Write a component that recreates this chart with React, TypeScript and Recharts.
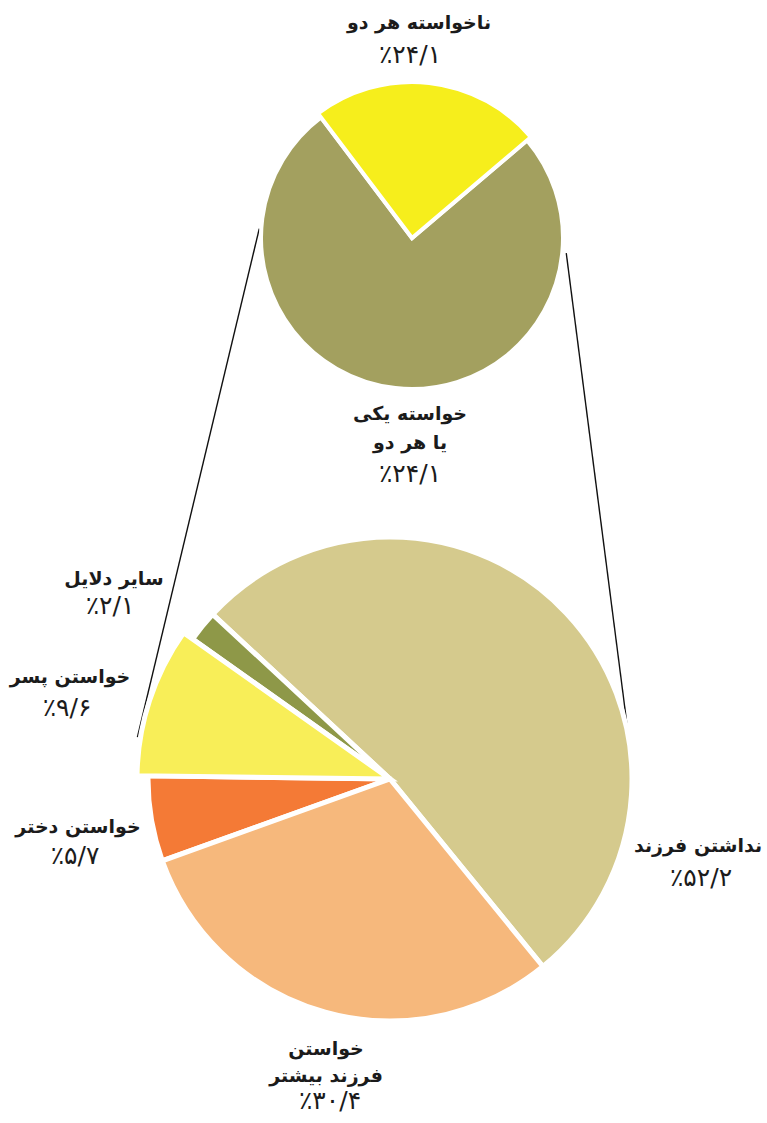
import React from 'react';
import { PieChart, Pie, Cell } from 'recharts';

// ---- data ----
const topNames = ['ناخواسته هر دو', 'خواسته یکی یا هر دو'];
const topValues = [24.1, 75.9];
const topPercentLabels = ['٪۲۴/۱', '٪۲۴/۱'];

const bottomNames = ['نداشتن فرزند', 'سایر دلایل', 'خواستن پسر', 'خواستن دختر', 'خواستن فرزند بیشتر'];
const bottomValues = [52.2, 2.1, 9.6, 5.7, 30.4];
const bottomPercentLabels = ['٪۵۲/۲', '٪۲/۱', '٪۹/۶', '٪۵/۷', '٪۳۰/۴'];

// ---- styles ----
const topColors = ['#f6ee1c', '#a3a05f'];
const bottomColors = ['#d5ca8d', '#8e9848', '#f8ee58', '#f47a36', '#f6b87c'];
const topExploded = [true, false];
const bottomExploded = [false, false, true, false, false];

const W = 767;
const H = 1123;
const TOP = { cx: 412, cy: 238, r: 151, rBig: 156, start: 40.3 };
const BOT = { cx: 390, cy: 779, r: 242, rBig: 253, start: -50.8 };

const topData = topNames.map((name, i) => ({ name, value: topValues[i] }));
const bottomData = bottomNames.map((name, i) => ({ name, value: bottomValues[i] }));

type LabelLayout = { x: number; lines: string[]; ys: number[]; px: number; py: number };
const topLabelLayout: LabelLayout[] = [
  { x: 419, lines: ['ناخواسته هر دو'], ys: [29], px: 410, py: 63 },
  { x: 410, lines: ['خواسته یکی', 'یا هر دو'], ys: [420, 449], px: 410, py: 482 },
];
const bottomLabelLayout: LabelLayout[] = [
  { x: 698, lines: ['نداشتن فرزند'], ys: [852], px: 701, py: 886 },
  { x: 114, lines: ['سایر دلایل'], ys: [585], px: 110, py: 614 },
  { x: 70, lines: ['خواستن پسر'], ys: [683], px: 67, py: 716 },
  { x: 78, lines: ['خواستن دختر'], ys: [833], px: 75, py: 864 },
  { x: 326, lines: ['خواستن', 'فرزند بیشتر'], ys: [1055, 1082], px: 330, py: 1109 },
];

const pt = (c: { cx: number; cy: number }, r: number, deg: number) => {
  const a = (deg * Math.PI) / 180;
  return { x: c.cx + r * Math.cos(a), y: c.cy - r * Math.sin(a) };
};

const connectors = [
  { a: pt(TOP, 153, 176.5), b: pt(BOT, 256, 170.6) },
  { a: pt(TOP, 155, -5.6), b: pt(BOT, 242, 7.6) },
];

const fontFamily = '"DejaVu Sans", "Noto Sans", sans-serif';

export default function App() {
  return (
    <div style={{ position: 'absolute', left: 0, top: 0, width: W, height: H, background: '#fff' }}>
      <svg width={W} height={H} style={{ position: 'absolute', left: 0, top: 0 }}>
        {connectors.map((c, i) => (
          <line key={i} x1={c.a.x} y1={c.a.y} x2={c.b.x} y2={c.b.y} stroke="#111" strokeWidth={1.4} />
        ))}
      </svg>
      <div style={{ position: 'absolute', left: 0, top: 0 }}>
        <PieChart width={W} height={H} margin={{ top: 0, right: 0, bottom: 0, left: 0 }}>
          <Pie
            data={topData}
            dataKey="value"
            cx={TOP.cx}
            cy={TOP.cy}
            outerRadius={TOP.r}
            startAngle={TOP.start}
            endAngle={TOP.start + 360}
            isAnimationActive={false}
            stroke="#fff"
            strokeWidth={4}
          >
            {topData.map((d, i) => (
              <Cell key={i} fill={topExploded[i] ? 'transparent' : topColors[i]} stroke={topExploded[i] ? 'none' : '#fff'} />
            ))}
          </Pie>
          <Pie
            data={topData}
            dataKey="value"
            cx={TOP.cx}
            cy={TOP.cy}
            outerRadius={TOP.rBig}
            startAngle={TOP.start}
            endAngle={TOP.start + 360}
            isAnimationActive={false}
            stroke="#fff"
            strokeWidth={4}
          >
            {topData.map((d, i) => (
              <Cell key={i} fill={topExploded[i] ? topColors[i] : 'transparent'} stroke={topExploded[i] ? '#fff' : 'none'} />
            ))}
          </Pie>
          <Pie
            data={bottomData}
            dataKey="value"
            cx={BOT.cx}
            cy={BOT.cy}
            outerRadius={BOT.r}
            startAngle={BOT.start}
            endAngle={BOT.start + 360}
            isAnimationActive={false}
            stroke="#fff"
            strokeWidth={5}
          >
            {bottomData.map((d, i) => (
              <Cell key={i} fill={bottomExploded[i] ? 'transparent' : bottomColors[i]} stroke={bottomExploded[i] ? 'none' : '#fff'} />
            ))}
          </Pie>
          <Pie
            data={bottomData}
            dataKey="value"
            cx={BOT.cx}
            cy={BOT.cy}
            outerRadius={BOT.rBig}
            startAngle={BOT.start}
            endAngle={BOT.start + 360}
            isAnimationActive={false}
            stroke="#fff"
            strokeWidth={5}
          >
            {bottomData.map((d, i) => (
              <Cell key={i} fill={bottomExploded[i] ? bottomColors[i] : 'transparent'} stroke={bottomExploded[i] ? '#fff' : 'none'} />
            ))}
          </Pie>
        </PieChart>
      </div>
      <svg width={W} height={H} style={{ position: 'absolute', left: 0, top: 0, pointerEvents: 'none' }}>
        {[...topLabelLayout.map((l, i) => ({ l, p: topPercentLabels[i] })), ...bottomLabelLayout.map((l, i) => ({ l, p: bottomPercentLabels[i] }))].map(
          ({ l, p }, i) => (
            <g key={i} fontFamily={fontFamily} fill="#1b1b1b" textAnchor="middle">
              {l.lines.map((t, j) => (
                <text key={j} x={l.x} y={l.ys[j]} fontSize={19} fontWeight="bold" direction="rtl">
                  {t}
                </text>
              ))}
              <text x={l.px} y={l.py} fontSize={25} letterSpacing={1}>
                {p}
              </text>
            </g>
          )
        )}
      </svg>
    </div>
  );
}
